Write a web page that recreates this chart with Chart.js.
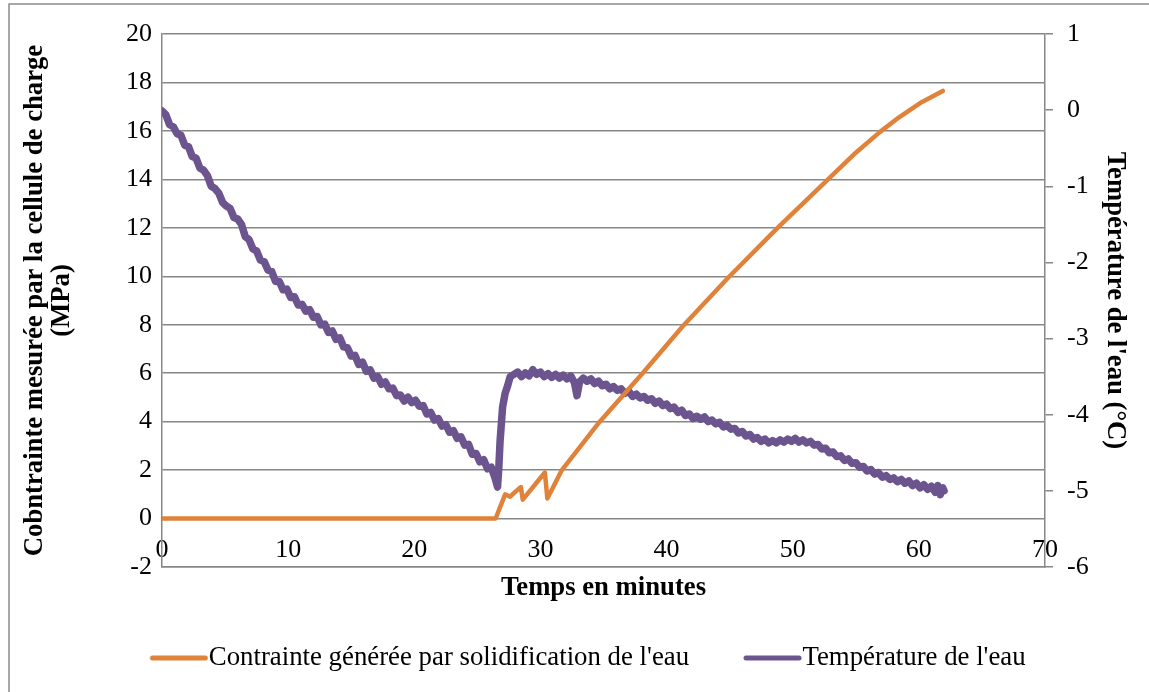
<!DOCTYPE html>
<html lang="fr">
<head>
<meta charset="utf-8">
<title>Contrainte et température de l'eau</title>
<script src="https://cdn.jsdelivr.net/npm/chart.js@4/dist/chart.umd.min.js"></script>
<style>
  html, body { margin: 0; padding: 0; background: #ffffff; }
  #wrap { width: 1149px; height: 692px; position: relative; }
  canvas { display: block; }
</style>
</head>
<body>
<div id="wrap"><canvas id="chart" width="1149" height="692" style="width:1149px;height:692px"></canvas></div>
<script>
// Temps en minutes / contrainte (MPa) mesurée par la cellule de charge
const stressTime = [0, 26.45, 27.2, 27.6, 28.0, 28.45, 28.6, 30.35, 30.55, 31.7, 34.7, 38.1, 41.3, 44.9, 48.8, 52.8, 55.0, 56.9, 58.4, 60.1, 61.9];
const stressValues = [0, 0, 1.0, 0.9, 1.1, 1.3, 0.78, 1.9, 0.83, 2.0, 4.0, 6.0, 7.95, 9.95, 12.0, 14.0, 15.1, 15.95, 16.55, 17.15, 17.65];

// Temps en minutes / température de l'eau (°C)
const tempTime = [
  0.0, 0.3, 0.6, 0.9, 1.2, 1.5, 1.8, 2.1, 2.4, 2.7, 3.0, 3.3, 3.6, 3.9, 4.2, 4.5, 4.8, 5.1, 5.4, 5.7,
  6.0, 6.3, 6.6, 6.9, 7.2, 7.5, 7.8, 8.1, 8.4, 8.7, 9.0, 9.3, 9.6, 9.9, 10.2, 10.5, 10.8, 11.1, 11.4, 11.7,
  12.0, 12.3, 12.6, 12.9, 13.2, 13.5, 13.8, 14.1, 14.4, 14.7, 15.0, 15.3, 15.6, 15.9, 16.2, 16.5, 16.8, 17.1, 17.4, 17.7,
  18.0, 18.3, 18.6, 18.9, 19.2, 19.5, 19.8, 20.1, 20.4, 20.7, 21.0, 21.3, 21.6, 21.9, 22.2, 22.5, 22.8, 23.1, 23.4, 23.7,
  24.0, 24.3, 24.6, 24.9, 25.2, 25.5, 25.8, 26.1, 26.4, 26.6, 26.7, 26.8, 27.0, 27.2, 27.4, 27.6,
  27.9, 28.2, 28.5, 28.8, 29.1, 29.4, 29.7, 30.0, 30.3, 30.6, 30.9, 31.2, 31.5, 31.8, 32.1, 32.4, 32.7, 32.9, 33.1, 33.4,
  33.7, 34.0, 34.3, 34.6, 34.9, 35.2, 35.5, 35.8, 36.1, 36.4, 36.7, 37.0, 37.3, 37.6, 37.9, 38.2, 38.5, 38.8, 39.1, 39.4,
  39.7, 40.0, 40.3, 40.6, 40.9, 41.2, 41.5, 41.8, 42.1, 42.4, 42.7, 43.0, 43.3, 43.6, 43.9, 44.2, 44.5, 44.8, 45.1, 45.4,
  45.7, 46.0, 46.3, 46.6, 46.9, 47.2, 47.5, 47.8, 48.1, 48.4, 48.7, 49.0, 49.3, 49.6, 49.9, 50.2, 50.5, 50.8, 51.1, 51.4,
  51.7, 52.0, 52.3, 52.6, 52.9, 53.2, 53.5, 53.8, 54.1, 54.4, 54.7, 55.0, 55.3, 55.6, 55.9, 56.2, 56.5, 56.8, 57.1, 57.4,
  57.7, 58.0, 58.3, 58.6, 58.9, 59.2, 59.5, 59.8, 60.1, 60.4, 60.7, 61.0, 61.3, 61.5, 61.7, 61.9, 62.0
];
const tempValues = [
  -0.01, -0.06, -0.19, -0.22, -0.31, -0.33, -0.46, -0.48, -0.61, -0.63, -0.76, -0.79, -0.86, -1.00, -1.03, -1.09, -1.21, -1.26, -1.29, -1.41,
  -1.43, -1.50, -1.66, -1.70, -1.82, -1.85, -1.97, -1.99, -2.10, -2.12, -2.25, -2.25, -2.36, -2.35, -2.46, -2.45, -2.56, -2.55, -2.64, -2.62,
  -2.72, -2.71, -2.82, -2.81, -2.92, -2.90, -3.01, -2.99, -3.11, -3.12, -3.23, -3.22, -3.34, -3.31, -3.43, -3.41, -3.52, -3.50, -3.60, -3.57,
  -3.66, -3.65, -3.75, -3.74, -3.82, -3.77, -3.84, -3.81, -3.89, -3.88, -3.99, -3.97, -4.07, -4.05, -4.15, -4.13, -4.23, -4.21, -4.31, -4.29,
  -4.40, -4.39, -4.52, -4.51, -4.62, -4.59, -4.71, -4.69, -4.83, -4.95, -4.70, -4.35, -3.90, -3.72, -3.62, -3.50,
  -3.47, -3.44, -3.50, -3.45, -3.49, -3.41, -3.47, -3.44, -3.50, -3.46, -3.51, -3.47, -3.52, -3.48, -3.53, -3.49, -3.58, -3.75, -3.57, -3.52,
  -3.56, -3.53, -3.59, -3.56, -3.62, -3.60, -3.66, -3.63, -3.68, -3.66, -3.72, -3.69, -3.76, -3.73, -3.78, -3.76, -3.81, -3.79, -3.85, -3.82,
  -3.88, -3.86, -3.92, -3.90, -3.97, -3.94, -4.01, -3.99, -4.05, -4.02, -4.06, -4.03, -4.09, -4.07, -4.12, -4.10, -4.16, -4.14, -4.19, -4.18,
  -4.24, -4.22, -4.28, -4.26, -4.32, -4.30, -4.35, -4.32, -4.37, -4.34, -4.37, -4.33, -4.36, -4.32, -4.35, -4.31, -4.36, -4.33, -4.37, -4.35,
  -4.40, -4.39, -4.45, -4.44, -4.50, -4.49, -4.55, -4.54, -4.60, -4.58, -4.64, -4.63, -4.69, -4.68, -4.74, -4.72, -4.78, -4.76, -4.82, -4.80,
  -4.85, -4.83, -4.88, -4.85, -4.90, -4.87, -4.93, -4.90, -4.96, -4.92, -4.98, -4.94, -5.02, -4.93, -5.05, -4.96, -5.00
];

// Graduations des axes
const timeTicks = [0, 10, 20, 30, 40, 50, 60, 70];
const stressTicks = [-2, 0, 2, 4, 6, 8, 10, 12, 14, 16, 18, 20];
const tempTicks = [-6, -5, -4, -3, -2, -1, 0, 1];

const seriesLabels = ["Contrainte générée par solidification de l'eau", "Température de l'eau"];
const axisTitles = {
  x: 'Temps en minutes',
  left: ['Cobntrainte mesurée par la cellule de charge', '(MPa)'],
  right: "Température de l'eau (°C)"
};

const ORANGE = '#E0823A';
const PURPLE = '#6C548F';
const GRID = '#878787';
const FONT = "'Liberation Serif', 'Times New Roman', Times, serif";

Chart.defaults.font.family = FONT;
Chart.defaults.color = '#000000';

// Symbole de légende : trait épais qui touche presque le texte
function legendStroke(color) {
  const c = document.createElement('canvas');
  c.width = 84;
  c.height = 8;
  const g = c.getContext('2d');
  g.strokeStyle = color;
  g.lineWidth = 5;
  g.lineCap = 'round';
  g.beginPath();
  g.moveTo(28, 4);
  g.lineTo(81, 4);
  g.stroke();
  return c;
}

// Cadre gris autour du graphique
const frame = {
  id: 'frame',
  beforeDraw(chart) {
    const ctx = chart.ctx;
    ctx.save();
    ctx.fillStyle = '#ffffff';
    ctx.fillRect(0, 0, chart.width, chart.height);
    ctx.strokeStyle = '#8a8a8a';
    ctx.lineWidth = 1.5;
    ctx.strokeRect(9, 4, chart.width + 20, chart.height + 20);
    ctx.restore();
  }
};

const fixedTicks = (values) => (scale) => {
  scale.ticks = values.map(v => ({ value: v }));
};

new Chart(document.getElementById('chart'), {
  type: 'line',
  data: {
    datasets: [
      {
        label: seriesLabels[0],
        data: stressTime.map((t, i) => ({ x: t, y: stressValues[i] })),
        yAxisID: 'yLeft',
        borderColor: ORANGE,
        backgroundColor: ORANGE,
        pointStyle: legendStroke(ORANGE),
        borderWidth: 4.5,
        pointRadius: 0,
        borderJoinStyle: 'round',
        borderCapStyle: 'round',
        tension: 0
      },
      {
        label: seriesLabels[1],
        data: tempTime.map((t, i) => ({ x: t, y: tempValues[i] })),
        yAxisID: 'yRight',
        borderColor: PURPLE,
        backgroundColor: PURPLE,
        pointStyle: legendStroke(PURPLE),
        borderWidth: 7.5,
        pointRadius: 0,
        borderJoinStyle: 'round',
        borderCapStyle: 'round',
        tension: 0
      }
    ]
  },
  options: {
    responsive: false,
    animation: false,
    devicePixelRatio: 1,
    events: [],
    layout: { padding: { left: 14, right: 0, top: 34, bottom: 10.6 } },
    scales: {
      x: {
        type: 'linear',
        position: 'bottom',
        min: timeTicks[0],
        max: timeTicks[timeTicks.length - 1],
        afterBuildTicks: fixedTicks(timeTicks),
        afterFit: (s) => { s.height = 35.6; },
        grid: { display: false },
        border: { display: true, color: GRID, width: 1.5 },
        ticks: { font: { size: 26 }, mirror: true, padding: 1, maxRotation: 0, autoSkip: false, color: '#000' },
        title: {
          display: true,
          text: axisTitles.x,
          font: { size: 26.7, weight: 'bold', lineHeight: 1 },
          padding: { top: 0, bottom: 1.25 },
          color: '#000'
        }
      },
      yLeft: {
        type: 'linear',
        position: 'left',
        min: stressTicks[0],
        max: stressTicks[stressTicks.length - 1],
        afterBuildTicks: fixedTicks(stressTicks),
        afterFit: (s) => { s.width = 148; },
        grid: { color: GRID, lineWidth: 1.5, drawTicks: false },
        border: { display: true, color: GRID, width: 1.5 },
        ticks: { font: { size: 26 }, padding: 10, color: '#000' },
        title: {
          display: true,
          text: axisTitles.left,
          font: { size: 26.7, weight: 'bold', lineHeight: 1 },
          padding: { top: 7.65, bottom: 0 },
          color: '#000'
        }
      },
      yRight: {
        type: 'linear',
        position: 'right',
        min: tempTicks[0],
        max: tempTicks[tempTicks.length - 1],
        afterBuildTicks: fixedTicks(tempTicks),
        afterFit: (s) => { s.width = 104; },
        grid: { drawOnChartArea: false, drawTicks: true, tickLength: 8, color: GRID, lineWidth: 1.5 },
        border: { display: true, color: GRID, width: 1.5 },
        ticks: { font: { size: 26 }, padding: 14, color: '#000' },
        title: {
          display: true,
          text: axisTitles.right,
          font: { size: 26.7, weight: 'bold', lineHeight: 1.05 },
          padding: { top: 20, bottom: 0 },
          color: '#000'
        }
      }
    },
    plugins: {
      legend: {
        position: 'bottom',
        labels: {
          usePointStyle: true,
          pointStyleWidth: 58,
          padding: 42,
          color: '#000',
          font: { size: 26.8 }
        }
      },
      tooltip: { enabled: false }
    }
  },
  plugins: [frame]
});
</script>
</body>
</html>
